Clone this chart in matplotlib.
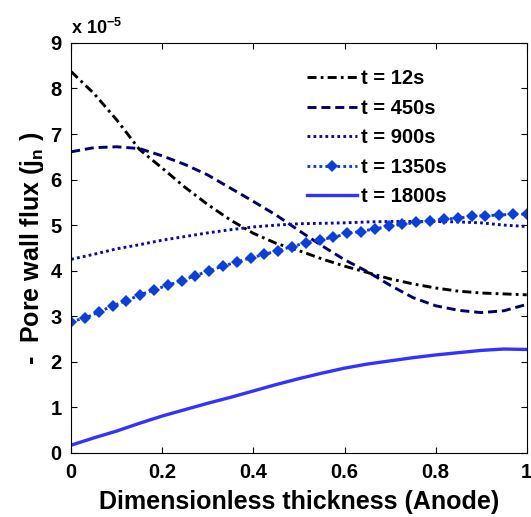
import numpy as np
import matplotlib
matplotlib.use("Agg")
import matplotlib.pyplot as plt

plt.rcParams['font.family'] = ['Liberation Sans', 'DejaVu Sans']
plt.rcParams['font.weight'] = 'bold'
plt.rcParams['mathtext.fontset'] = 'custom'
plt.rcParams['mathtext.rm'] = 'Liberation Sans:bold'
plt.rcParams['mathtext.bf'] = 'Liberation Sans:bold'
plt.rcParams['mathtext.it'] = 'Liberation Sans:bold'
plt.rcParams['lines.scale_dashes'] = False

# values are in units of 1e-5
x_coarse = [0.00, 0.05, 0.10, 0.15, 0.20, 0.25, 0.30, 0.35, 0.40, 0.45, 0.50,
            0.55, 0.60, 0.65, 0.70, 0.75, 0.80, 0.85, 0.90, 0.95, 1.00]
flux_12 = [8.37, 7.89, 7.31, 6.66, 6.25, 5.83, 5.45, 5.11, 4.82, 4.60, 4.44,
           4.26, 4.10, 3.96, 3.82, 3.71, 3.62, 3.55, 3.51, 3.49, 3.47]
flux_450 = [6.61, 6.70, 6.72, 6.68, 6.52, 6.33, 6.10, 5.81, 5.52, 5.22, 4.88,
            4.55, 4.24, 3.98, 3.68, 3.41, 3.23, 3.13, 3.08, 3.12, 3.26]
flux_900 = [4.25, 4.36, 4.48, 4.57, 4.67, 4.75, 4.83, 4.90, 4.96, 5.00, 5.03,
            5.04, 5.05, 5.07, 5.08, 5.08, 5.08, 5.07, 5.05, 5.00, 4.97]
flux_1800 = [0.17, 0.33, 0.48, 0.65, 0.81, 0.95, 1.09, 1.22, 1.36, 1.50, 1.63,
             1.75, 1.86, 1.95, 2.02, 2.09, 2.15, 2.20, 2.25, 2.28, 2.27]

x_fine = np.linspace(0, 1, 34)
flux_1350 = [2.88, 2.96, 3.09, 3.23, 3.34, 3.47, 3.58, 3.68, 3.78, 3.89, 4.00,
             4.10, 4.19, 4.28, 4.36, 4.44, 4.53, 4.61, 4.68, 4.73, 4.82, 4.86,
             4.92, 4.97, 5.02, 5.06, 5.09, 5.13, 5.15, 5.19, 5.21, 5.22, 5.24, 5.24]

labels = ['t = 12s', 't = 450s', 't = 900s', 't = 1350s', 't = 1800s']

fig = plt.figure(figsize=(5.31, 5.17), dpi=100)
ax = fig.add_axes([0.134, 0.124, 0.858, 0.793])

lw = 2.1
ax.plot(x_coarse, flux_12, color='black', lw=lw,
        linestyle=(0, (6.5, 3, 2, 3)), label=labels[0])
ax.plot(x_coarse, flux_450, color='#000070', lw=lw,
        linestyle=(0, (6.5, 3.5)), label=labels[1])
ax.plot(x_coarse, flux_900, color='#0a0aa8', lw=lw,
        linestyle=(0, (2.0, 2.3)), dash_capstyle='butt', label=labels[2])
ax.plot(x_fine, flux_1350, color='#0a3fd8', lw=lw,
        linestyle=(0, (2.0, 2.3)), marker='D', markersize=6.5,
        markeredgewidth=0, label=labels[3])
ax.plot(x_coarse, flux_1800, color='#3333ff', lw=2.4, label=labels[4])

ax.set_xlim(0, 1)
ax.set_ylim(0, 9)
ax.set_xticks([0, 0.2, 0.4, 0.6, 0.8, 1])
ax.set_xticklabels(['0', '0.2', '0.4', '0.6', '0.8', '1'])
ax.set_yticks(range(10))
ax.tick_params(direction='in', top=True, right=True, length=4, width=0.8,
               labelsize=14.5, pad=7)
for s in ax.spines.values():
    s.set_linewidth(0.8)

ax.set_xlabel('Dimensionless thickness (Anode)', fontsize=18, fontweight='bold',
              labelpad=6)
ax.set_ylabel(r'-  Pore wall flux (j$_{\mathbf{n}}$ )', fontsize=18,
              fontweight='bold', labelpad=3)
ax.text(0.0, 1.012, r'x 10$^{\mathbf{-5}}$', transform=ax.transAxes,
        fontsize=13, fontweight='bold', ha='left', va='bottom')

leg = ax.legend(loc='upper left', bbox_to_anchor=(0.5, 0.955), frameon=False,
                fontsize=14.5, handlelength=2.5, handletextpad=0.2,
                labelspacing=0.52, borderaxespad=0)
for t in leg.get_texts():
    t.set_fontweight('bold')

fig.savefig('out.png', dpi=100)
